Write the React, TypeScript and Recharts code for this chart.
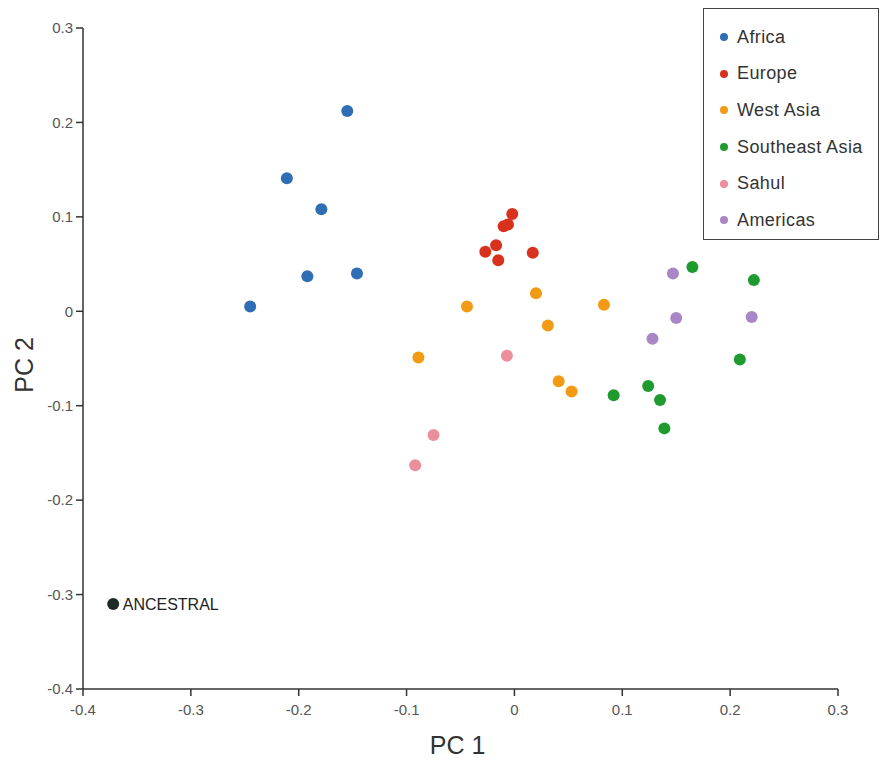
import React from 'react';
import { ScatterChart, Scatter, XAxis, YAxis, Legend, LabelList } from 'recharts';

// PC1 / PC2 scores
const africa = [
  { pc1: -0.155, pc2: 0.212 },
  { pc1: -0.211, pc2: 0.141 },
  { pc1: -0.179, pc2: 0.108 },
  { pc1: -0.192, pc2: 0.037 },
  { pc1: -0.146, pc2: 0.040 },
  { pc1: -0.245, pc2: 0.005 },
];

const europe = [
  { pc1: -0.002, pc2: 0.103 },
  { pc1: -0.010, pc2: 0.090 },
  { pc1: -0.006, pc2: 0.092 },
  { pc1: -0.027, pc2: 0.063 },
  { pc1: -0.017, pc2: 0.070 },
  { pc1: -0.015, pc2: 0.054 },
  { pc1: 0.017, pc2: 0.062 },
];

const westAsia = [
  { pc1: 0.020, pc2: 0.019 },
  { pc1: -0.044, pc2: 0.005 },
  { pc1: 0.083, pc2: 0.007 },
  { pc1: 0.031, pc2: -0.015 },
  { pc1: -0.089, pc2: -0.049 },
  { pc1: 0.041, pc2: -0.074 },
  { pc1: 0.053, pc2: -0.085 },
];

const southeastAsia = [
  { pc1: 0.165, pc2: 0.047 },
  { pc1: 0.222, pc2: 0.033 },
  { pc1: 0.209, pc2: -0.051 },
  { pc1: 0.124, pc2: -0.079 },
  { pc1: 0.092, pc2: -0.089 },
  { pc1: 0.135, pc2: -0.094 },
  { pc1: 0.139, pc2: -0.124 },
];

const sahul = [
  { pc1: -0.007, pc2: -0.047 },
  { pc1: -0.075, pc2: -0.131 },
  { pc1: -0.092, pc2: -0.163 },
];

const americas = [
  { pc1: 0.147, pc2: 0.040 },
  { pc1: 0.150, pc2: -0.007 },
  { pc1: 0.128, pc2: -0.029 },
  { pc1: 0.220, pc2: -0.006 },
];

const ancestral = [{ pc1: -0.372, pc2: -0.310, name: 'ANCESTRAL' }];

const legendOrder = ['Africa', 'Europe', 'West Asia', 'Southeast Asia', 'Sahul', 'Americas'];

const xTicks = [-0.4, -0.3, -0.2, -0.1, 0, 0.1, 0.2, 0.3];
const yTicks = [-0.4, -0.3, -0.2, -0.1, 0, 0.1, 0.2, 0.3];

const font = '"Liberation Sans", Arial, sans-serif';

const Dot = (props: any) => <circle cx={props.cx} cy={props.cy} r={6} fill={props.fill} />;

const LegendBox = (props: any) => {
  const items = (props.payload || [])
    .filter((e: any) => legendOrder.includes(e.value))
    .sort((a: any, b: any) => legendOrder.indexOf(a.value) - legendOrder.indexOf(b.value));
  return (
    <div
      style={{
        width: 176,
        height: 232,
        border: '1.5px solid #444',
        background: '#fff',
        paddingTop: 10,
        boxSizing: 'border-box',
        fontFamily: font,
      }}
    >
      {items.map((entry: any) => (
        <div key={entry.value} style={{ height: 36.6, display: 'flex', alignItems: 'center' }}>
          <span
            style={{
              display: 'inline-block',
              width: 8,
              height: 8,
              borderRadius: 4,
              background: entry.color,
              marginLeft: 16,
              marginRight: 9,
            }}
          />
          <span style={{ fontSize: 18, color: '#333', letterSpacing: 0.4 }}>{entry.value}</span>
        </div>
      ))}
    </div>
  );
};

const App: React.FC = () => {
  return (
    <div style={{ position: 'absolute', left: 0, top: 0, background: '#fff' }}>
      <ScatterChart width={882} height={761} margin={{ top: 28, right: 44, bottom: 22, left: 23 }}>
        <XAxis
          type="number"
          dataKey="pc1"
          domain={[-0.4, 0.3]}
          ticks={xTicks}
          height={50}
          stroke="#333"
          strokeWidth={1.5}
          tickSize={7}
          tickMargin={8}
          tick={{ fill: '#555', fontSize: 15, fontFamily: font }}
          label={{
            content: (p: any) => (
              <text
                x={p.viewBox.x + p.viewBox.width / 2 - 3}
                y={754}
                textAnchor="middle"
                fontSize={25}
                fill="#333"
                fontFamily={font}
              >
                PC 1
              </text>
            ),
          }}
        />
        <YAxis
          type="number"
          dataKey="pc2"
          domain={[-0.4, 0.3]}
          ticks={yTicks}
          width={60}
          stroke="#333"
          strokeWidth={1.5}
          tickSize={7}
          tickMargin={3}
          tick={{ fill: '#555', fontSize: 15, fontFamily: font }}
          label={{
            content: () => (
              <text
                x={33}
                y={365}
                transform="rotate(-90 33 365)"
                textAnchor="middle"
                fontSize={25}
                fill="#333"
                fontFamily={font}
              >
                PC 2
              </text>
            ),
          }}
        />
        <Legend
          layout="vertical"
          align="center"
          verticalAlign="middle"
          wrapperStyle={{ top: 8, left: 703, width: 176 }}
          content={LegendBox}
        />
        <Scatter name="Africa" data={africa} fill="#2f6db5" shape={Dot} isAnimationActive={false} />
        <Scatter name="Europe" data={europe} fill="#d8321f" shape={Dot} isAnimationActive={false} />
        <Scatter name="West Asia" data={westAsia} fill="#f39a14" shape={Dot} isAnimationActive={false} />
        <Scatter name="Southeast Asia" data={southeastAsia} fill="#1f9a2e" shape={Dot} isAnimationActive={false} />
        <Scatter name="Sahul" data={sahul} fill="#ec8f9c" shape={Dot} isAnimationActive={false} />
        <Scatter name="Americas" data={americas} fill="#a987c6" shape={Dot} isAnimationActive={false} />
        <Scatter name="Ancestral" data={ancestral} fill="#1d2a25" shape={Dot} legendType="none" isAnimationActive={false}>
          <LabelList dataKey="name" position="right" offset={5} fontSize={16} fill="#222" fontFamily={font} />
        </Scatter>
      </ScatterChart>
    </div>
  );
};

export default App;
